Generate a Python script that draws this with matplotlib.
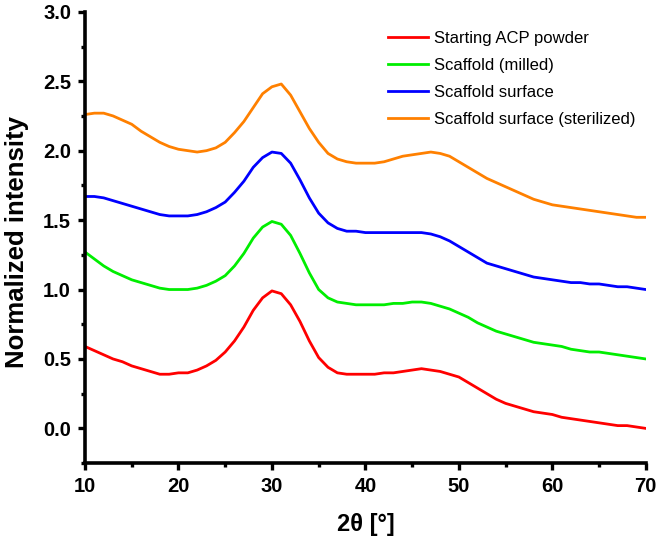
import matplotlib.pyplot as plt
import numpy as np
from matplotlib.ticker import MultipleLocator

two_theta = np.arange(10, 71)

acp_powder = [
    0.59, 0.56, 0.53, 0.50, 0.48, 0.45, 0.43, 0.41, 0.39, 0.39,
    0.40, 0.40, 0.42, 0.45, 0.49, 0.55, 0.63, 0.73, 0.85, 0.94,
    0.99, 0.97, 0.89, 0.77, 0.63, 0.51, 0.44, 0.40, 0.39, 0.39,
    0.39, 0.39, 0.40, 0.40, 0.41, 0.42, 0.43, 0.42, 0.41, 0.39,
    0.37, 0.33, 0.29, 0.25, 0.21, 0.18, 0.16, 0.14, 0.12, 0.11,
    0.10, 0.08, 0.07, 0.06, 0.05, 0.04, 0.03, 0.02, 0.02, 0.01,
    0.00,
]
scaffold_milled = [
    1.27, 1.22, 1.17, 1.13, 1.10, 1.07, 1.05, 1.03, 1.01, 1.00,
    1.00, 1.00, 1.01, 1.03, 1.06, 1.10, 1.17, 1.26, 1.37, 1.45,
    1.49, 1.47, 1.39, 1.26, 1.12, 1.00, 0.94, 0.91, 0.90, 0.89,
    0.89, 0.89, 0.89, 0.90, 0.90, 0.91, 0.91, 0.90, 0.88, 0.86,
    0.83, 0.80, 0.76, 0.73, 0.70, 0.68, 0.66, 0.64, 0.62, 0.61,
    0.60, 0.59, 0.57, 0.56, 0.55, 0.55, 0.54, 0.53, 0.52, 0.51,
    0.50,
]
scaffold_surface = [
    1.67, 1.67, 1.66, 1.64, 1.62, 1.60, 1.58, 1.56, 1.54, 1.53,
    1.53, 1.53, 1.54, 1.56, 1.59, 1.63, 1.70, 1.78, 1.88, 1.95,
    1.99, 1.98, 1.91, 1.79, 1.66, 1.55, 1.48, 1.44, 1.42, 1.42,
    1.41, 1.41, 1.41, 1.41, 1.41, 1.41, 1.41, 1.40, 1.38, 1.35,
    1.31, 1.27, 1.23, 1.19, 1.17, 1.15, 1.13, 1.11, 1.09, 1.08,
    1.07, 1.06, 1.05, 1.05, 1.04, 1.04, 1.03, 1.02, 1.02, 1.01,
    1.00,
]
surface_sterilized = [
    2.26, 2.27, 2.27, 2.25, 2.22, 2.19, 2.14, 2.10, 2.06, 2.03,
    2.01, 2.00, 1.99, 2.00, 2.02, 2.06, 2.13, 2.21, 2.31, 2.41,
    2.46, 2.48, 2.40, 2.28, 2.16, 2.06, 1.98, 1.94, 1.92, 1.91,
    1.91, 1.91, 1.92, 1.94, 1.96, 1.97, 1.98, 1.99, 1.98, 1.96,
    1.92, 1.88, 1.84, 1.80, 1.77, 1.74, 1.71, 1.68, 1.65, 1.63,
    1.61, 1.60, 1.59, 1.58, 1.57, 1.56, 1.55, 1.54, 1.53, 1.52,
    1.52,
]

labels = [
    "Starting ACP powder",
    "Scaffold (milled)",
    "Scaffold surface",
    "Scaffold surface (sterilized)",
]
colors = ["#ff0000", "#00ee00", "#0000ff", "#ff8000"]


def main():
    plt.rcParams["font.family"] = ["Liberation Sans", "DejaVu Sans"]
    fig = plt.figure(figsize=(6.61, 5.36), dpi=100)
    ax = fig.add_axes([0.1286, 0.136, 0.8484, 0.842])

    series = [acp_powder, scaffold_milled, scaffold_surface, surface_sterilized]
    for ys, label, color in zip(series, labels, colors):
        ax.plot(two_theta, ys, color=color, lw=2.0, label=label)

    ax.set_xlim(10, 70)
    ax.set_ylim(-0.25, 3.0)
    ax.xaxis.set_major_locator(MultipleLocator(10))
    ax.xaxis.set_minor_locator(MultipleLocator(5))
    ax.yaxis.set_major_locator(MultipleLocator(0.5))
    ax.yaxis.set_minor_locator(MultipleLocator(0.25))
    ax.yaxis.set_major_formatter(lambda v, pos: f"{v:.1f}")

    ax.spines.right.set_visible(False)
    ax.spines.top.set_visible(False)
    ax.spines.left.set_linewidth(2.6)
    ax.spines.bottom.set_linewidth(2.6)
    ax.tick_params(which="major", length=5, width=2.4, direction="out",
                   labelsize=14.5, pad=5)
    ax.tick_params(which="minor", length=3, width=2.4, direction="out")
    for lbl in ax.get_xticklabels() + ax.get_yticklabels():
        lbl.set_fontweight("bold")

    ax.set_xlabel("2θ [°]", fontsize=17, fontweight="bold", labelpad=12)
    ax.set_ylabel("Normalized intensity", fontsize=18.5, fontweight="bold")
    ax.yaxis.set_label_coords(-0.100, 0.49)

    ax.legend(loc="upper left", bbox_to_anchor=(0.540, 0.958), frameon=False,
              fontsize=12, handlelength=2.4, handletextpad=0.35,
              labelspacing=0.72, borderpad=0, borderaxespad=0)

    fig.savefig("out.png", dpi=100)


if __name__ == "__main__":
    main()
